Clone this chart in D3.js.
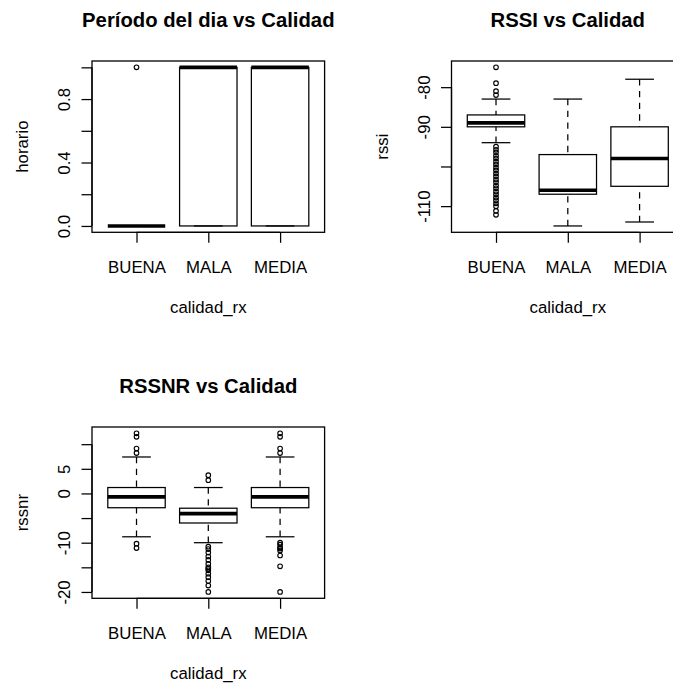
<!DOCTYPE html>
<html>
<head>
<meta charset="utf-8">
<script src="https://cdn.jsdelivr.net/npm/d3@7"></script>
<style>
  body { margin: 0; background: #fff; }
  svg { display: block; }
  text { font-family: "Liberation Sans", Arial, sans-serif; fill: #000; }
</style>
</head>
<body>
<svg id="chart" width="673" height="686"></svg>
<script>
// Quality categories shared by every panel
const categories = ["BUENA", "MALA", "MEDIA"];

// Box summaries per category: [lower whisker, Q1, median, Q3, upper whisker]
const horarioStats = [
  [0, 0, 0, 0, 0],
  [0, 0, 1, 1, 1],
  [0, 0, 1, 1, 1]
];
const horarioOutliers = [[1], [], []];
const horarioTicks = [0, 0.2, 0.4, 0.6, 0.8, 1];
const horarioTickLabels = ["0.0", "", "0.4", "", "0.8", ""];

const rssiStats = [
  [-94, -90, -89, -87, -83],
  [-115, -107, -106, -97, -83],
  [-114, -105, -98, -90, -78]
];
const rssiOutliers = [
  [-75, -79, -81, -82,
   -95, -95.8, -96.5, -97.3, -98, -98.8, -99.5, -100.3, -101, -101.8,
   -102.5, -103.3, -104, -104.8, -105.5, -106.3, -107, -107.8, -108.5,
   -109.3, -110, -111.2, -112.2],
  [],
  []
];
const rssiTicks = [-110, -100, -90, -80];
const rssiTickLabels = ["-110", "", "-90", "-80"];

const rssnrStats = [
  [-8.8, -2.9, -0.7, 1.2, 7.4],
  [-10, -6, -4.1, -3, 1.2],
  [-8.8, -2.9, -0.7, 1.2, 7.4]
];
const rssnrOutliers = [
  [12.2, 11.5, 9.1, 8.2, -10.2, -11.1],
  [3.7, 2.7, -10.8, -11.3, -12, -12.8, -13.5, -14.3, -15, -15.3, -15.6,
   -16.3, -17, -17.8, -18.7, -20],
  [12.2, 11.5, 9.1, 8.2, -10, -10.4, -11, -11.2, -11.6, -12.6, -14.8, -20]
];
const rssnrTicks = [-20, -15, -10, -5, 0, 5, 10];
const rssnrTickLabels = ["-20", "", "-10", "", "0", "5", ""];

const panels = [
  { title: "Período del dia vs Calidad", ylab: "horario", stats: horarioStats,
    outliers: horarioOutliers, ticks: horarioTicks, tickLabels: horarioTickLabels, col: 0, row: 0 },
  { title: "RSSI vs Calidad", ylab: "rssi", stats: rssiStats,
    outliers: rssiOutliers, ticks: rssiTicks, tickLabels: rssiTickLabels, col: 1, row: 0 },
  { title: "RSSNR vs Calidad", ylab: "rssnr", stats: rssnrStats,
    outliers: rssnrOutliers, ticks: rssnrTicks, tickLabels: rssnrTickLabels, col: 0, row: 1 }
];

// 2x2 grid of plot regions
const plotW = 232.6, plotH = 171.3;
const originX = 92, originY = 61, stepX = 359.5, stepY = 366;
const fontSize = 16.8, titleSize = 20.3;
const lineW = 1.25;

const svg = d3.select("#chart");
svg.append("rect").attr("width", 673).attr("height", 686).attr("fill", "#fff");

panels.forEach(p => {
  const left = originX + p.col * stepX;
  const top = originY + p.row * stepY;
  const g = svg.append("g").attr("transform", `translate(${left},${top})`);

  // y range covers all data with 4% padding on each side
  const all = p.stats.flat().concat(p.outliers.flat());
  const [lo, hi] = d3.extent(all);
  const pad = (hi - lo) * 0.04;
  const y = d3.scaleLinear().domain([lo - pad, hi + pad]).range([plotH, 0]);
  const x = d3.scaleLinear().domain([0.38, 3.62]).range([0, plotW]);

  // y axis
  const yAxis = d3.axisLeft(y)
    .tickValues(p.ticks)
    .tickFormat((d, i) => p.tickLabels[i])
    .tickSize(10.5)
    .tickSizeOuter(0);
  const ga = g.append("g").call(yAxis)
    .attr("font-size", null).attr("font-family", null);
  ga.select(".domain").remove();
  ga.selectAll(".tick line").attr("stroke", "#000").attr("stroke-width", lineW);
  ga.selectAll(".tick text")
    .attr("transform", "rotate(-90)")
    .attr("x", 0).attr("y", -22).attr("dy", null)
    .attr("text-anchor", "middle")
    .style("font-size", fontSize + "px")
    .attr("fill", "#000");
  ga.append("line")
    .attr("x1", 0).attr("x2", 0)
    .attr("y1", y(p.ticks[0])).attr("y2", y(p.ticks[p.ticks.length - 1]))
    .attr("stroke", "#000").attr("stroke-width", lineW);

  // x axis
  const xAxis = d3.axisBottom(x)
    .tickValues([1, 2, 3])
    .tickFormat((d, i) => categories[i])
    .tickSize(10.5)
    .tickSizeOuter(0);
  const gx = g.append("g").attr("transform", `translate(0,${plotH})`).call(xAxis)
    .attr("font-size", null).attr("font-family", null);
  gx.select(".domain").remove();
  gx.selectAll(".tick line").attr("stroke", "#000").attr("stroke-width", lineW);
  gx.selectAll(".tick text")
    .attr("y", 40.5).attr("dy", null)
    .attr("text-anchor", "middle")
    .style("font-size", fontSize + "px")
    .attr("fill", "#000");
  gx.append("line")
    .attr("x1", x(1)).attr("x2", x(3)).attr("y1", 0).attr("y2", 0)
    .attr("stroke", "#000").attr("stroke-width", lineW);

  // boxes
  p.stats.forEach((s, i) => {
    const cx = i + 1;
    const [lw, q1, med, q3, uw] = s;
    const bg = g.append("g").attr("stroke", "#000").attr("fill", "none");

    // dashed whiskers, drawn from the whisker end toward the box
    [[lw, q1], [uw, q3]].forEach(([a, b]) => {
      bg.append("line")
        .attr("x1", x(cx)).attr("x2", x(cx))
        .attr("y1", y(a)).attr("y2", y(b))
        .attr("stroke-width", lineW)
        .attr("stroke-dasharray", "6.3,5.4");
    });
    // staples
    [lw, uw].forEach(v => {
      bg.append("line")
        .attr("x1", x(cx - 0.2)).attr("x2", x(cx + 0.2))
        .attr("y1", y(v)).attr("y2", y(v))
        .attr("stroke-width", lineW);
    });
    // box
    bg.append("rect")
      .attr("x", x(cx - 0.4)).attr("width", x(cx + 0.4) - x(cx - 0.4))
      .attr("y", y(q3)).attr("height", y(q1) - y(q3))
      .attr("stroke-width", lineW);
    // median
    bg.append("line")
      .attr("x1", x(cx - 0.4)).attr("x2", x(cx + 0.4))
      .attr("y1", y(med)).attr("y2", y(med))
      .attr("stroke-width", 3.6);
    // outliers
    bg.selectAll("circle.out").data(p.outliers[i]).enter().append("circle")
      .attr("class", "out")
      .attr("cx", x(cx)).attr("cy", d => y(d))
      .attr("r", 2.3)
      .attr("stroke-width", 1.1);
  });

  // frame
  g.append("rect")
    .attr("width", plotW).attr("height", plotH)
    .attr("fill", "none").attr("stroke", "#000").attr("stroke-width", 1.3);

  // titles and axis labels
  g.append("text")
    .attr("x", plotW / 2).attr("y", -34.5)
    .attr("text-anchor", "middle")
    .style("font-size", titleSize + "px").style("font-weight", "bold")
    .text(p.title);
  g.append("text")
    .attr("transform", `translate(-64,${plotH / 2}) rotate(-90)`)
    .attr("text-anchor", "middle")
    .style("font-size", fontSize + "px")
    .text(p.ylab);
  g.append("text")
    .attr("x", plotW / 2).attr("y", plotH + 81)
    .attr("text-anchor", "middle")
    .style("font-size", fontSize + "px")
    .text("calidad_rx");
});
</script>
</body>
</html>
